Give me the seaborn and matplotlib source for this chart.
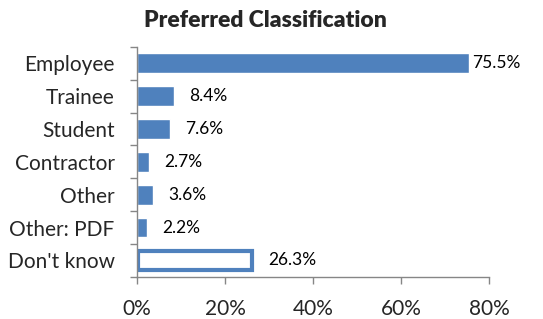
import numpy as np
import pandas as pd
import seaborn as sns
import matplotlib.pyplot as plt

categories = ["Employee", "Trainee", "Student", "Contractor", "Other", "Other: PDF", "Don't know"]
values = [75.5, 8.4, 7.6, 2.7, 3.6, 2.2, 26.3]
value_labels = ["75.5%", "8.4%", "7.6%", "2.7%", "3.6%", "2.2%", "26.3%"]
xticks = [0, 20, 40, 60, 80]

blue = "#4F81BD"
grey = "#868686"

sns.set_style("white")
plt.rcParams['font.family'] = ['Lato', 'DejaVu Sans']

df = pd.DataFrame({"category": categories, "value": values})

fig = plt.figure(figsize=(5.43, 3.19), dpi=100)
ax = fig.add_axes([0.252, 0.132, 0.649, 0.721])

sns.barplot(data=df, x="value", y="category", orient="h", color=blue,
            width=0.6, saturation=1, ax=ax)

# "Don't know" is drawn as an outlined bar
last = ax.patches[-1]
last.set_facecolor("white")
last.set_edgecolor(blue)
last.set_linewidth(3)
w = last.get_width()
last.set_width(w - 0.4)
last.set_x(0.2)

for i, (v, lab) in enumerate(zip(values, value_labels)):
    pad = 2 if v > 50 else 11
    ax.annotate(lab, xy=(v, i), xytext=(pad, 0), textcoords="offset points",
                ha="left", va="center", fontsize=12.5, color="black")

ax.set_xlim(0, 80)
ax.set_ylim(len(categories) - 0.5, -0.5)
ax.set_xticks(xticks)
ax.set_xticklabels([f"{t}%" for t in xticks], fontsize=15)
ax.set_yticks(range(len(categories)))
ax.set_yticklabels(categories, fontsize=15)
ax.set_yticks(np.arange(-0.5, len(categories) + 0.5, 1), minor=True)
ax.tick_params(axis="y", which="major", length=0, pad=16)
ax.tick_params(axis="y", which="minor", length=5, width=1, color=grey, direction="out", left=True)
ax.tick_params(axis="x", length=5, width=1, color=grey, direction="out", bottom=True, pad=11)
ax.set_xlabel("")
ax.set_ylabel("")

for side in ["top", "right"]:
    ax.spines[side].set_visible(False)
for side in ["left", "bottom"]:
    ax.spines[side].set_color(grey)
    ax.spines[side].set_linewidth(1)

fig.text(0.488, 0.935, "Preferred Classification", ha="center", va="center",
         fontsize=16.5, fontweight="heavy")

plt.savefig("out.png", dpi=100)
